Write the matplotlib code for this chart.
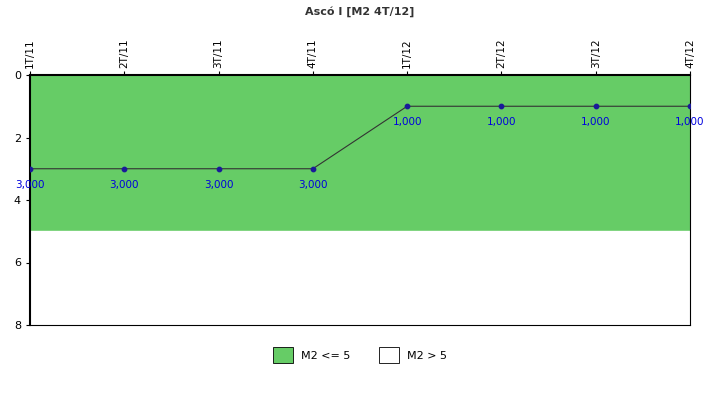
import matplotlib
matplotlib.use('Agg')
import matplotlib.pyplot as plt
from matplotlib.patches import Patch

quarters = ['1T/11', '2T/11', '3T/11', '4T/11', '1T/12', '2T/12', '3T/12', '4T/12']
values = [3, 3, 3, 3, 1, 1, 1, 1]
threshold = 5
ymax = 8

fig = plt.figure(figsize=(7.2, 4.0), dpi=100)
ax = fig.add_axes([30/720, 75/400, 660/720, 250/400])
x = list(range(len(quarters)))

ax.axhspan(0, threshold, color='#66CC66', zorder=0)
ax.axhspan(threshold, ymax, color='white', zorder=0)
ax.plot(x, values, color='#333333', lw=0.8, zorder=2)
ax.scatter(x, values, color='#1a1a99', s=10, zorder=3)
for xi, v in zip(x, values):
    ax.text(xi, v + 0.35, f'{v:,.3f}'.replace('.', ','), color='#0000dd',
            fontsize=7.5, ha='center', va='top', zorder=4)

ax.set_xlim(0, len(quarters) - 1)
ax.set_ylim(ymax, 0)
ax.set_yticks([0, 2, 4, 6, 8])
ax.set_xticks(x)
ax.set_xticklabels(quarters, rotation=90, fontsize=7.5)
ax.xaxis.tick_top()
ax.tick_params(axis='y', labelsize=8, length=3)
ax.tick_params(axis='x', length=3, pad=2)
for s in ax.spines.values():
    s.set_linewidth(0.8)
ax.spines['left'].set_linewidth(1.5)
ax.spines['top'].set_linewidth(1.5)

fig.text(0.5, 0.972, 'Ascó I [M2 4T/12]', ha='center', va='center',
         fontsize=8, fontweight='bold', color='#333333')

handles = [Patch(facecolor='#66CC66', edgecolor='black', lw=0.6, label='M2 <= 5'),
           Patch(facecolor='white', edgecolor='black', lw=0.6, label='M2 > 5')]
fig.legend(handles=handles, loc='center', bbox_to_anchor=(0.5, 0.112), ncol=2,
           frameon=False, fontsize=8, handlelength=1.8, handleheight=1.8,
           columnspacing=2.5)

fig.savefig('out.png', dpi=100)
